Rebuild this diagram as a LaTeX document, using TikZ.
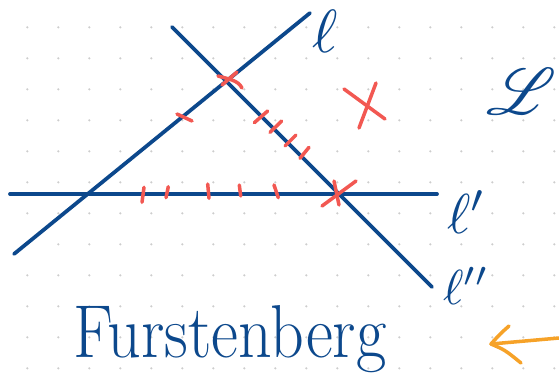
\documentclass[tikz,border=0pt]{standalone}
\usepackage{amsmath,amssymb,mathrsfs}
\usetikzlibrary{positioning,calc}
\definecolor{inkblue}{RGB}{12,72,140}
\definecolor{inkred}{RGB}{242,88,82}
\definecolor{inkorange}{RGB}{246,162,40}
\definecolor{dotgray}{RGB}{205,205,205}
\tikzset{
	penblue/.style={inkblue,line width=3.2pt,line cap=round},
	penred/.style={inkred,line width=3pt,line cap=round},
	penorange/.style={inkorange,line width=3pt,line cap=round,line join=round},
	lab/.style={inkblue,inner sep=0pt}
}

\begin{document}
\begin{tikzpicture}[x=0.03cm,y=-0.03cm]
		\useasboundingbox (0,0) rectangle (559,390);
		% dotted paper
		\foreach \i in {0,...,17}
			\foreach \j in {0,...,11}
				\fill[dotgray] (27.3+31*\i,27.3+31*\j) circle (1.2);

		\coordinate (l1) at (14,254);
		\coordinate (l2) at (310,13);
		\coordinate (m1) at (172,27);
		\coordinate (m2) at (432,287);
		\coordinate (h1) at (10,194);
		\coordinate (h2) at (437,194);
		\draw[penblue] (l1) -- (l2);
		\draw[penblue] (m1) -- (m2);
		\draw[penblue] (h1) -- (h2);

		% crosses
		\draw[penred] (218,76) .. controls (228,79) and (238,80) .. (242,88);
		\draw[penred] (237,72) -- (222,85);
		\draw[penred] (322,206) -- (356,181);
		\draw[penred] (334,181) -- (339,205);
		\draw[penred] (344,89) -- (385,119);
		\draw[penred] (376,83) -- (359,128);

		% ticks
		\draw[penred] (177,114) -- (192,121);
		\draw[penred] (254.3,122.7) -- (267.7,111);
		\draw[penred] (270,132.3) -- (281.7,121);
		\draw[penred] (285,146) -- (296,135);
		\draw[penred] (300,158.3) -- (309,147.3);
		\draw[penred] (144,187.3) -- (142,202.3);
		\draw[penred] (168.3,186.7) -- (166,197.7);
		\draw[penred] (207.7,184) -- (209,198.3);
		\draw[penred] (239.3,185) -- (240.7,196);
		\draw[penred] (274,185) -- (278.3,197.7);

		\node[lab] (ell) at (325,31) {\scalebox{5.2}{$\ell$}};
		\node[lab] (ellp) at (467,212) {\scalebox{4.8}{$\ell'$}};
		\node[lab] (ellpp) at (466,286) {\scalebox{4.2}{$\ell''$}};
		\node[lab,anchor=east] (fam) at (557,92) {\scalebox{5.6}{$\mathscr{L}$}};
		\node[lab,anchor=base west] (name) at (73,357) {\scalebox{0.88}[1]{\fontsize{64}{64}\selectfont Furstenberg}};

		\coordinate (arr) at (559,338);
		\draw[penorange] (arr) -- (491,344);
		\draw[penorange] (509,326) .. controls (500,334) .. (491,344) .. controls (505,350) .. (521,363);
	\end{tikzpicture}
\end{document}
